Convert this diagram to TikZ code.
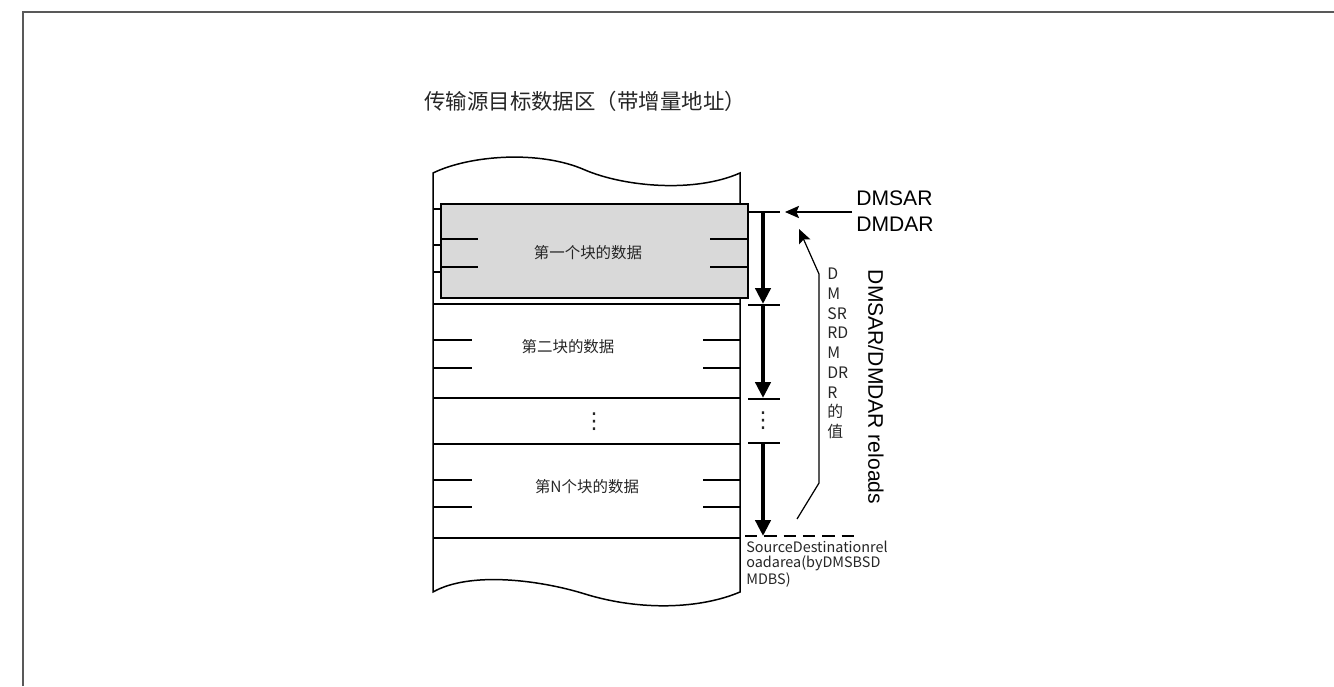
\documentclass[tikz,border=0pt]{standalone}
\usepackage{fontspec}
\setmainfont{Noto Sans CJK SC}
\newfontfamily\latinsf{Liberation Sans}
\newfontfamily\symfont{DejaVu Sans}
\usetikzlibrary{arrows.meta}

\begin{document}
\begin{tikzpicture}[x=0.02cm, y=-0.02cm,
	lbl/.style={inner sep=0pt, font=\fontsize{8.8pt}{10pt}\selectfont, text=black!85},
	reg/.style={inner sep=0pt, font=\latinsf\fontsize{12pt}{14pt}\selectfont},
	small/.style={inner sep=0pt, align=left, text=black!85},
	vdot/.style={inner sep=0pt, font=\symfont\fontsize{12.5pt}{14pt}\selectfont, text=black!85},
	rowline/.style={line width=0.6pt},
	fat/.style={-{Triangle[length=9pt,width=8.5pt]}, line width=2.4pt},
	thin/.style={-{Stealth[length=8pt,width=7pt,inset=1.5pt]}, line width=0.7pt}
	]
	\useasboundingbox (0,0) rectangle (1334,686);
	\draw[black!65, line width=1.1pt] (23,686) -- (23,12) -- (1334,12);

	\node[lbl, anchor=west, font=\fontsize{12.2pt}{14pt}\selectfont] (title) at (424,101) {传输源目标数据区（带增量地址）};

	% memory area
	\draw[line width=0.85pt] (433,173) .. controls (470,155) and (540,150) .. (585,170)
		.. controls (625,187) and (695,193) .. (740,173) -- (740,592)
		.. controls (700,609) and (640,611) .. (585,594)
		.. controls (540,580) and (470,571) .. (433,592) -- cycle;
	\foreach \y in {209,245,272} \draw[rowline] (433,\y) -- (441,\y);
	\foreach \y in {304,398,444,538} \draw[rowline] (433,\y) -- (740,\y);
	\foreach \y in {340,368,480,507} {
		\draw[rowline] (433,\y) -- (472,\y);
		\draw[rowline] (703,\y) -- (740,\y);
	}
	\draw[line width=0.85pt, fill=black!15] (441,204) rectangle (748,298);
	\foreach \y in {239,267} {
		\draw[rowline] (441,\y) -- (478,\y);
		\draw[rowline] (710,\y) -- (748,\y);
	}
	\node[lbl] (blk1) at (588,253) {第一个块的数据};
	\node[lbl] (blk2) at (568,347) {第二块的数据};
	\node[vdot] (dots) at (594,422) {⋮};
	\node[lbl] (blkn) at (587,487) {第N个块的数据};

	% address steps
	\foreach \y in {212,305,399,443} \draw[rowline] (748,\y) -- (780,\y);
	\draw[rowline, dash pattern=on 7pt off 4pt] (745,536) -- (855,536);
	\coordinate (s0) at (763,212);
	\coordinate (s1) at (763,304);
	\coordinate (s2) at (763,305);
	\coordinate (s3) at (763,398);
	\coordinate (s4) at (763,443);
	\coordinate (s5) at (763,536);
	\draw[fat] (s0) -- (s1);
	\draw[fat] (s2) -- (s3);
	\draw[fat] (s4) -- (s5);
	\node[vdot] (gap) at (763,421) {⋮};

	\node[reg, anchor=west] (sar) at (856,198) {DMSAR};
	\node[reg, anchor=west] (dar) at (856,224) {DMDAR};
	\coordinate (start) at (785,212);
	\draw[thin] (sar.west |- start) ++(-4,0) coordinate (sarin) -- (start);

	\coordinate (r0) at (797,519);
	\coordinate (r1) at (819,483);
	\coordinate (r2) at (819,274);
	\coordinate (r3) at (799,229);
	\draw[thin] (r0) -- (r1) -- (r2) -- (r3);

	\node[small, anchor=north west, font=\fontsize{9pt}{11.2pt}\selectfont] (rld) at (827,268) {D\\M\\SR\\RD\\M\\DR\\R\\的\\值};
	\node[reg, rotate=-90] (reload) at (876,387) {DMSAR/DMDAR reloads};
	\node[small, anchor=north west, font=\fontsize{8.2pt}{8.3pt}\selectfont] (src) at (746,541) {SourceDestinationrel\\oadarea(byDMSBSD\\MDBS)};
\end{tikzpicture}
\end{document}
